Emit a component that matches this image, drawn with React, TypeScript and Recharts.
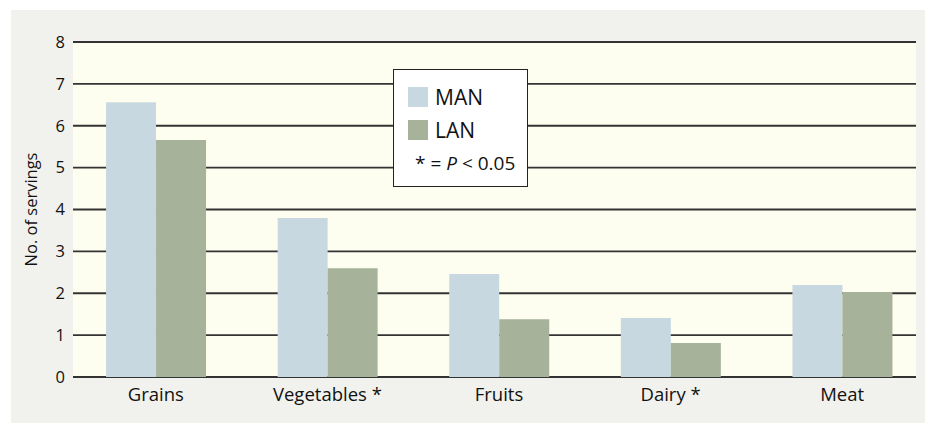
import { Bar, BarChart, CartesianGrid, Legend, XAxis, YAxis } from "recharts";

const categories = ["Grains", "Vegetables *", "Fruits", "Dairy *", "Meat"];
const manValues = [6.56, 3.8, 2.46, 1.41, 2.2];
const lanValues = [5.66, 2.6, 1.38, 0.81, 2.03];
const yTicks = [0, 1, 2, 3, 4, 5, 6, 7, 8];

const MAN = "#c8d8e1";
const LAN = "#a6b299";
const PLOT_BG = "#fefef0";
const PANEL = "#f1f2ed";
const FONT = "'Open Sans', 'Noto Sans', sans-serif";

const data = categories.map((name, i) => ({ name, man: manValues[i], lan: lanValues[i] }));

function LegendBox() {
  const row = { display: "flex", alignItems: "center", height: 33 };
  const swatch = (c: string) => ({ width: 20, height: 20, background: c, marginRight: 7 });
  return (
    <div
      style={{
        boxSizing: "border-box",
        width: 135,
        height: 118,
        background: "#ffffff",
        border: "1.5px solid #222",
        padding: "10px 0 0 14px",
        fontFamily: FONT,
        color: "#111",
      }}
    >
      <div style={row}>
        <div style={swatch(MAN)} />
        <span style={{ fontSize: 21 }}>MAN</span>
      </div>
      <div style={row}>
        <div style={swatch(LAN)} />
        <span style={{ fontSize: 21 }}>LAN</span>
      </div>
      <div style={{ fontSize: 19, marginTop: 4, marginLeft: 7, whiteSpace: "nowrap" }}>
        * = <i>P</i> &lt; 0.05
      </div>
    </div>
  );
}

export default function App() {
  return (
    <div style={{ position: "absolute", left: 0, top: 0, width: 925, height: 423, background: "#fff", overflow: "hidden" }}>
      <div style={{ position: "absolute", left: 11, top: 10, right: 0, bottom: 0, background: PANEL }} />
      <div style={{ position: "absolute", left: 0, top: 0 }}>
        <BarChart
          width={925}
          height={423}
          data={data}
          margin={{ top: 42, right: 9, bottom: 0, left: 0 }}
          barCategoryGap="21%"
          barGap={0}
        >
          <CartesianGrid vertical={false} fill={PLOT_BG} fillOpacity={1} stroke="#333" strokeWidth={1.8} />
          <XAxis
            dataKey="name"
            height={46}
            axisLine={false}
            tickLine={false}
            tickMargin={5}
            padding={{ left: -3, right: -12 }}
            tick={{ fill: "#111", fontSize: 18.5, fontFamily: FONT }}
          />
          <YAxis
            width={73}
            domain={[0, 8]}
            ticks={yTicks}
            interval={0}
            axisLine={false}
            tickLine={false}
            tick={{ fill: "#111", fontSize: 16.5, fontFamily: FONT }}
            label={{ value: "No. of servings", angle: -90, position: "insideLeft", offset: 31, style: { fill: "#111", fontSize: 16.5, fontFamily: FONT, textAnchor: "middle" } }}
          />
          <Legend
            layout="horizontal"
            verticalAlign="middle"
            align="center"
            content={<LegendBox />}
            wrapperStyle={{ left: 393, top: 69, width: 135 }}
          />
          <Bar dataKey="man" name="MAN" fill={MAN} isAnimationActive={false} />
          <Bar dataKey="lan" name="LAN" fill={LAN} isAnimationActive={false} />
        </BarChart>
      </div>
    </div>
  );
}
